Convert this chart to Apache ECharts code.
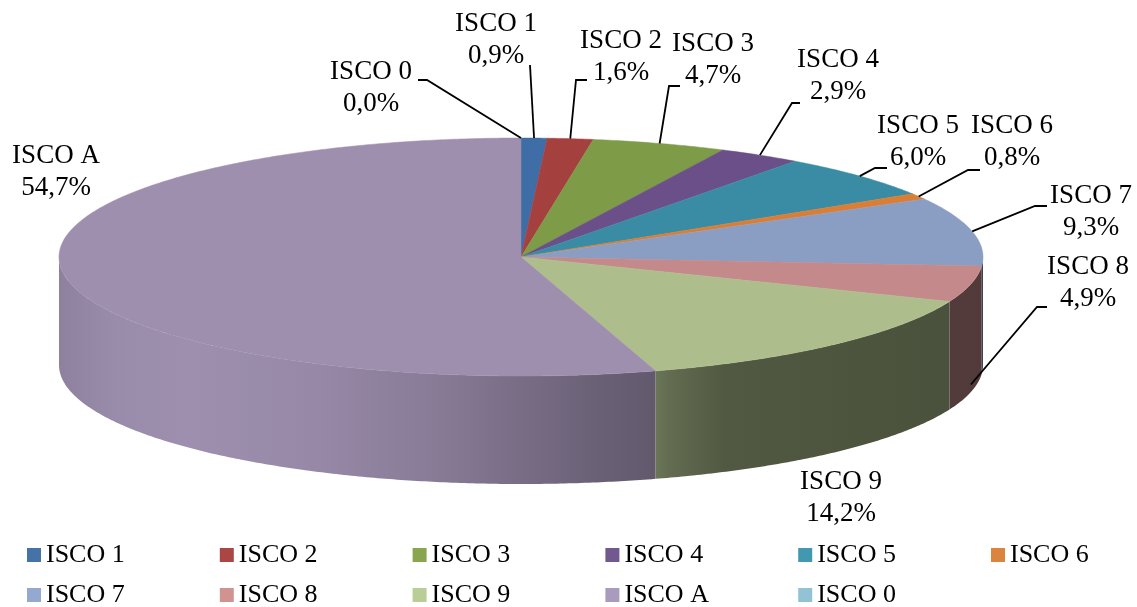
<!DOCTYPE html>
<html>
<head>
<meta charset="utf-8">
<script src="https://cdn.jsdelivr.net/npm/echarts@6/dist/echarts.min.js"></script>
<style>
html,body{margin:0;padding:0;background:#fff;}
#chart{width:1137px;height:607px;}
</style>
</head>
<body>
<div id="chart"></div>
<script>
// ---- data ----
const categories = ['ISCO 1','ISCO 2','ISCO 3','ISCO 4','ISCO 5','ISCO 6','ISCO 7','ISCO 8','ISCO 9','ISCO A','ISCO 0'];
const values = [0.9, 1.6, 4.7, 2.9, 6.0, 0.8, 9.3, 4.9, 14.2, 54.7, 0.0];

// ---- styles ----
const topColors = ['#3F6DA6','#A4403E','#7E9B48','#6A4F88','#3A8CA4','#DB7E35','#8A9EC3','#C4898A','#ADBE8C','#9E8FAF','#8FC0D2'];
const legendColors = ['#4572A7','#AA4643','#89A54E','#71588F','#4198AF','#DB843D','#93A9CF','#D19392','#B9CD96','#A99BBD','#92C3D4'];
// shading of the cylinder wall across its width (u from left edge to right edge)
const shadeStops = [[0,0.9],[0.06,0.97],[0.14,1.0],[0.28,0.95],[0.40,0.87],[0.50,0.76],[0.58,0.68],[0.645,0.62],[0.66,0.57],[0.72,0.47],[1,0.42]];

// ---- layout ----
const geo = {cx: 521, cy: 257, rx: 462, ry: 119, depth: 108};
const labelCenters = [[496,40],[621,57],[713,60],[838,76],[918,142],[1012,142],[1091,212],[1088,283],[841,498],[56,172],[371,88]];
const leaders = [
  {from:[530,65], knee:null, depthFrac:0},
  {from:[587,80], knee:[576,80], depthFrac:0},
  {from:[680,86], knee:[669,86], depthFrac:0},
  {from:[800,103], knee:[792,103], depthFrac:0},
  {from:[887,168], knee:[875,168], depthFrac:0},
  {from:[980,170], knee:[968,170], depthFrac:0},
  {from:[1047,206], knee:[1035,206], depthFrac:0},
  {from:[1047,307], knee:[1037,307], depthFrac:0.93},
  null,
  null,
  {from:[418,80], knee:[427,80], depthFrac:0}
];
const legendLeft = 27, legendPitch = 192.8, legendTops = [542, 582], legendCols = 6;
const SERIF = '"Liberation Serif", "Times New Roman", serif';
const FONT = '27px ' + SERIF;

const total = values.reduce((a,b)=>a+b,0);
function pt(theta, dy){ // theta in degrees, clockwise from 12 o'clock
  const r = theta*Math.PI/180;
  return [geo.cx + geo.rx*Math.sin(r), geo.cy - geo.ry*Math.cos(r) + (dy||0)];
}
function arc(a0, a1, dy){
  const pts = [];
  const n = Math.max(2, Math.ceil(Math.abs(a1-a0)/0.5));
  for(let i=0;i<=n;i++){ pts.push(pt(a0+(a1-a0)*i/n, dy)); }
  return pts;
}
function shade(hex, f){
  const n = parseInt(hex.slice(1),16);
  const r = Math.min(255,Math.round(((n>>16)&255)*f));
  const g = Math.min(255,Math.round(((n>>8)&255)*f));
  const b = Math.min(255,Math.round((n&255)*f));
  return 'rgb('+r+','+g+','+b+')';
}
function fmt(v){ return v.toFixed(1).replace('.',',') + '%'; }

function renderSlice(params, api){
  const i = params.seriesIndex;
  const v = api.value(0);
  let start = 0;
  for(let k=0;k<i;k++) start += values[k];
  const a0 = start/total*360, a1 = (start+v)/total*360;
  const children = [];
  // side wall (visible front half 90..270)
  const s0 = Math.max(a0, 90), s1 = Math.min(a1, 270);
  if (s1 > s0) {
    const topArc = arc(s0, s1, 0);
    const botArc = arc(s1, s0, geo.depth);
    children.push({
      type:'polygon',
      shape:{points: topArc.concat(botArc)},
      style:{
        fill:{type:'linear', x: geo.cx-geo.rx, y:0, x2: geo.cx+geo.rx, y2:0, global:true,
          colorStops: shadeStops.map(s=>({offset:s[0], color: shade(topColors[i], s[1])}))},
        stroke:null
      }
    });
  }
  // top face
  if (a1 > a0) {
    const pts = [[geo.cx, geo.cy]].concat(arc(a0, a1, 0));
    children.push({
      type:'polygon',
      shape:{points: pts},
      style:{fill: topColors[i], stroke: topColors[i], lineWidth: 0.5}
    });
  }
  // leader line
  const ld = leaders[i];
  if (ld) {
    const mid = (a0+a1)/2;
    const anchor = pt(mid, geo.depth*ld.depthFrac);
    const pts = [ld.from];
    if (ld.knee) pts.push(ld.knee);
    pts.push(anchor);
    children.push({type:'polyline', shape:{points: pts}, style:{stroke:'#000', lineWidth:1.8, fill:null}, z2: 10});
  }
  // label
  const c = labelCenters[i];
  children.push({
    type:'text',
    style:{text: categories[i] + '\n' + fmt(v), x: c[0], y: c[1], align:'center', verticalAlign:'middle',
      font: FONT, lineHeight: 32, fill:'#000'},
    z2: 20
  });
  return {type:'group', children};
}

const series = categories.map((name, i) => ({
  type:'custom',
  name: name,
  coordinateSystem:'none',
  itemStyle:{color: legendColors[i]},
  renderItem: renderSlice,
  data: [[values[i]]],
  animation:false,
  silent:true
}));

const legends = categories.map((name, i) => ({
  orient:'horizontal', padding: 0, icon:'rect', itemWidth: 14, itemHeight: 14,
  selectedMode:false,
  left: legendLeft + (i % legendCols) * legendPitch,
  top: legendTops[Math.floor(i / legendCols)],
  data: [name],
  textStyle:{fontFamily: SERIF, fontSize: 26, color:'#000'}
}));

const chart = echarts.init(document.getElementById('chart'), null, {renderer:'canvas'});
chart.setOption({
  backgroundColor:'#fff',
  animation:false,
  legend: legends,
  series: series
});
</script>
</body>
</html>
